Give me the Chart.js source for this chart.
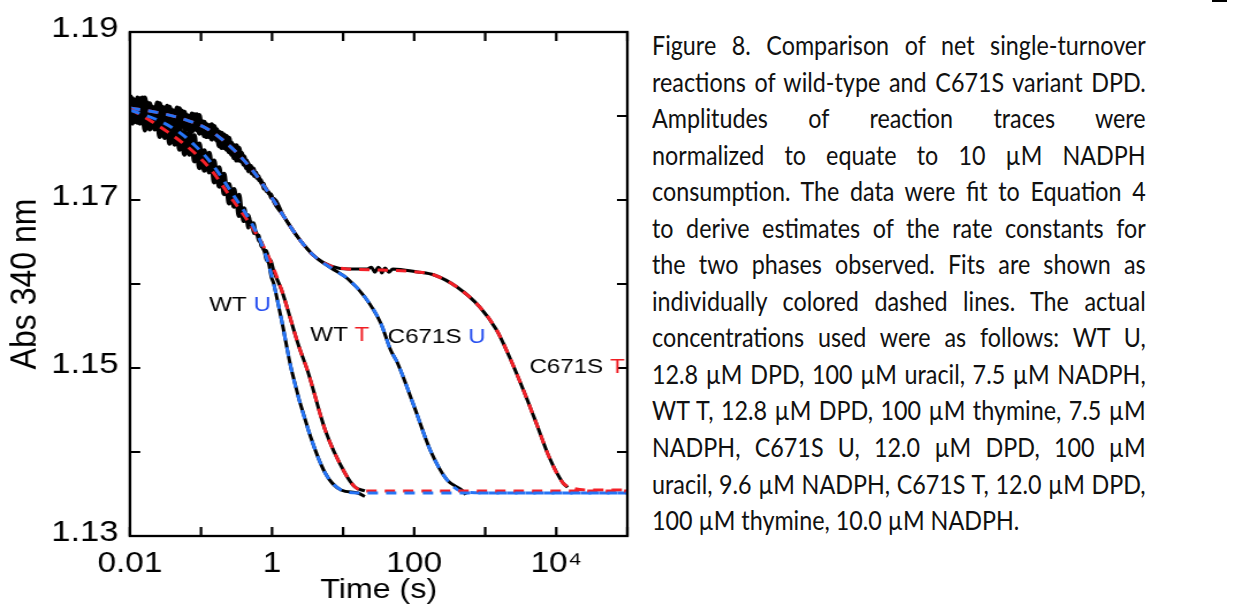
<!DOCTYPE html>
<html>
<head>
<meta charset="utf-8">
<script src="https://cdn.jsdelivr.net/npm/chart.js@4.4.1/dist/chart.umd.min.js"></script>
<style>
    html, body { margin: 0; padding: 0; background: #fff; width: 1238px; height: 611px; overflow: hidden; }
    /* the original figure is stretched horizontally, so the plot is too */
    #plotWrap { position: absolute; left: 0; top: 0; width: 556px; height: 611px; transform: scaleX(1.151); transform-origin: 0 0; }
    #caption { position: absolute; left: 652px; top: 27px; width: 561px; font-family: Lato, sans-serif; font-size: 26.5px; color: #111;
               transform: scaleX(0.88); transform-origin: 0 0; }
    #caption div { white-space: nowrap; height: 36.55px; line-height: 36.55px; }
    #corner { position: absolute; left: 1212px; top: 0; width: 15px; height: 2px; background: #000; }
</style>
</head>
<body>
<div id="plotWrap"><canvas id="absChart" width="556" height="611"></canvas></div>
<div id="caption"></div>
<div id="corner"></div>
<script>
// ---- data ----

// early sampling times (s), where the raw traces are noisy
const tEarly = [0.01000, 0.01084, 0.01174, 0.01272, 0.01378, 0.01494, 0.01619, 0.01754, 0.01900, 0.02059,
    0.02231, 0.02418, 0.02620, 0.02839, 0.03076, 0.03333, 0.03612, 0.03914, 0.04241, 0.04595,
    0.04980, 0.05396, 0.05847, 0.06336, 0.06866, 0.07440, 0.08062, 0.08736, 0.09466, 0.1026,
    0.1111, 0.1204, 0.1305, 0.1414, 0.1532, 0.1660, 0.1799, 0.1949, 0.2112, 0.2289,
    0.2480, 0.2687, 0.2912, 0.3155, 0.3419, 0.3705, 0.4015, 0.4350, 0.4714, 0.5108,
    0.5535, 0.5998, 0.6499, 0.7043, 0.7631, 0.8269, 0.8961, 0.9710, 1.052];

const wtUEarly = [1.1816, 1.1791, 1.1819, 1.1796, 1.1818, 1.1791, 1.1813, 1.1788, 1.1805, 1.1787,
    1.1808, 1.1788, 1.1802, 1.1780, 1.1801, 1.1779, 1.1794, 1.1774, 1.1796, 1.1774,
    1.1790, 1.1767, 1.1781, 1.1761, 1.1781, 1.1761, 1.1777, 1.1753, 1.1767, 1.1747,
    1.1759, 1.1741, 1.1756, 1.1738, 1.1747, 1.1725, 1.1739, 1.1719, 1.1731, 1.1710,
    1.1719, 1.1700, 1.1713, 1.1695, 1.1706, 1.1686, 1.1690, 1.1676, 1.1682, 1.1668,
    1.1673, 1.1659, 1.1658, 1.1645, 1.1642, 1.1629, 1.1625, 1.1609, 1.1601];
const wtTEarly = [1.1793, 1.1821, 1.1797, 1.1819, 1.1791, 1.1812, 1.1783, 1.1803, 1.1784, 1.1805,
    1.1784, 1.1797, 1.1775, 1.1796, 1.1774, 1.1788, 1.1767, 1.1789, 1.1766, 1.1782,
    1.1760, 1.1774, 1.1754, 1.1774, 1.1754, 1.1771, 1.1746, 1.1761, 1.1738, 1.1753,
    1.1735, 1.1751, 1.1733, 1.1743, 1.1721, 1.1735, 1.1716, 1.1728, 1.1707, 1.1716,
    1.1696, 1.1711, 1.1692, 1.1703, 1.1681, 1.1689, 1.1675, 1.1681, 1.1667, 1.1674,
    1.1660, 1.1662, 1.1651, 1.1651, 1.1640, 1.1640, 1.1631, 1.1627, 1.1616];
const c671sUEarly = [1.1797, 1.1818, 1.1793, 1.1822, 1.1800, 1.1822, 1.1796, 1.1816, 1.1794, 1.1811,
    1.1794, 1.1816, 1.1796, 1.1811, 1.1790, 1.1812, 1.1791, 1.1807, 1.1787, 1.1810,
    1.1789, 1.1806, 1.1785, 1.1801, 1.1782, 1.1803, 1.1784, 1.1802, 1.1779, 1.1794,
    1.1776, 1.1790, 1.1775, 1.1790, 1.1774, 1.1784, 1.1764, 1.1780, 1.1762, 1.1776,
    1.1757, 1.1768, 1.1750, 1.1765, 1.1747, 1.1756, 1.1742, 1.1747, 1.1734, 1.1741,
    1.1728, 1.1733, 1.1723, 1.1724, 1.1713, 1.1714, 1.1707, 1.1707, 1.1698];
const c671sTEarly = [1.1825, 1.1797, 1.1818, 1.1792, 1.1821, 1.1799, 1.1822, 1.1798, 1.1815, 1.1793,
    1.1810, 1.1793, 1.1815, 1.1796, 1.1810, 1.1789, 1.1811, 1.1790, 1.1806, 1.1786,
    1.1809, 1.1788, 1.1805, 1.1784, 1.1800, 1.1781, 1.1802, 1.1783, 1.1801, 1.1780,
    1.1793, 1.1775, 1.1789, 1.1772, 1.1788, 1.1771, 1.1781, 1.1762, 1.1778, 1.1760,
    1.1774, 1.1754, 1.1765, 1.1747, 1.1762, 1.1746, 1.1752, 1.1738, 1.1744, 1.1731,
    1.1738, 1.1726, 1.1729, 1.1719, 1.1720, 1.1710, 1.1710, 1.1702, 1.1702];

// fitted curves (Equation 4), times in s
const fitTimeWU = [0.010, 0.0246, 0.0467, 0.0806, 0.1392, 0.291, 0.503, 0.693, 0.897, 1.122,
    1.361, 1.877, 3.24, 5.59, 9.35, 16.1, 100000];
const fitWU = [1.18071, 1.17952, 1.17821, 1.17655, 1.17440, 1.17048, 1.16738, 1.16500, 1.16226, 1.15905,
    1.15571, 1.14976, 1.14262, 1.13750, 1.13548, 1.13512, 1.13512];

const fitTimeWT = [0.010, 0.0178, 0.0339, 0.0732, 0.1392, 0.248, 0.590, 0.897, 1.361, 2.35,
    3.24, 5.59, 10.6, 14.7, 20.2, 100000];
const fitWT = [1.18083, 1.17964, 1.17810, 1.17595, 1.17357, 1.17060, 1.16607, 1.16321, 1.15929, 1.15274,
    1.14940, 1.14262, 1.13750, 1.13583, 1.13536, 1.13536];

const fitTimeCU = [0.010, 0.0262, 0.0687, 0.1305, 0.291, 0.554, 0.897, 1.451, 2.35, 4.06,
    6.78, 11.7, 20.2, 33.8, 46.6, 58.3, 100.6, 168, 290, 501, 1446, 100000];
const fitCU = [1.18095, 1.18036, 1.17940, 1.17833, 1.17595, 1.17333, 1.17083, 1.16810, 1.16548, 1.16321,
    1.16190, 1.16060, 1.15845, 1.15536, 1.15214, 1.15060, 1.14536, 1.14024, 1.13667, 1.13524, 1.13512, 1.13512];

const fitTimeCT = [0.010, 0.0262, 0.0687, 0.1305, 0.291, 0.554, 0.897, 1.451, 2.35, 4.06,
    6.78, 11.7, 33.8, 111, 191, 400, 838, 1446, 2198, 3443, 5224, 7935, 12440, 17140, 28680, 100000];
const fitCT = [1.18095, 1.18036, 1.17940, 1.17833, 1.17595, 1.17333, 1.17083, 1.16810, 1.16548, 1.16321,
    1.16214, 1.16179, 1.16167, 1.16143, 1.16107, 1.15964, 1.15726, 1.15452, 1.15131, 1.14738,
    1.14345, 1.13940, 1.13631, 1.13571, 1.13548, 1.13548];

// last recorded points / plateau wiggles of the raw traces
const wtUTailT = [20.2];
const wtUTailV = [1.1347];
const wtTTailT = [];
const wtTTailV = [];
const c671sUTailT = [530];
const c671sUTailV = [1.1349];
const c671sTTailT = [22, 25, 28, 31, 35, 39, 44, 50, 14500];
const c671sTTailV = [1.1618, 1.1620, 1.1614, 1.1620, 1.1613, 1.1619, 1.1614, 1.1618, 1.1358];

// where each raw trace stops following the fit (s)
const traceEnd = { wtU: 16.1, wtT: 20.2, c671sU: 501, c671sT: 12440 };

// axes
const xTickValues = [0.01, 0.1, 1, 10, 100, 1000, 10000, 100000];
const xTickLabels = ['0.01', '', '1', '', '100', '', '10\u2074', ''];
const yTickValues = [1.13, 1.14, 1.15, 1.16, 1.17, 1.18, 1.19];
const yTickLabels = ['1.13', '', '1.15', '', '1.17', '', '1.19'];

const captionLines = [
    "Figure 8. Comparison of net single-turnover",
    "reactions of wild-type and C671S variant DPD.",
    "Amplitudes of reaction traces were",
    "normalized to equate to 10 \u00b5M NADPH",
    "consumption. The data were fit to Equation 4",
    "to derive estimates of the rate constants for",
    "the two phases observed. Fits are shown as",
    "individually colored dashed lines. The actual",
    "concentrations used were as follows: WT U,",
    "12.8 \u00b5M DPD, 100 \u00b5M uracil, 7.5 \u00b5M NADPH,",
    "WT T, 12.8 \u00b5M DPD, 100 \u00b5M thymine, 7.5 \u00b5M",
    "NADPH, C671S U, 12.0 \u00b5M DPD, 100 \u00b5M",
    "uracil, 9.6 \u00b5M NADPH, C671S T, 12.0 \u00b5M DPD,",
    "100 \u00b5M thymine, 10.0 \u00b5M NADPH."
];

// ---- styles ----
const RED = "rgb(244,32,40)";
const BLUE = "rgb(38,116,246)";
const RED_TXT = "rgb(240,30,36)";
const BLUE_TXT = "rgb(40,80,240)";

const seriesLabels = [
    { name: "WT", code: "U", t: 0.13, v: 1.1575, color: BLUE_TXT },
    { name: "WT", code: "T", t: 3.45, v: 1.1539, color: RED_TXT },
    { name: "C671S", code: "U", t: 42.3, v: 1.1537, color: BLUE_TXT },
    { name: "C671S", code: "T", t: 4180, v: 1.1501, color: RED_TXT }
];

function pts(ts, vs) {
    return ts.map((t, i) => ({ x: t, y: vs[i] }));
}

// raw trace = noisy early samples + the smooth part of the trace + tail
function rawTrace(earlyV, fitT, fitV, tEnd, tailT, tailV) {
    const p = pts(tEarly, earlyV);
    const tStart = tEarly[tEarly.length - 1];
    fitT.forEach((t, i) => {
        if (t > tStart && t <= tEnd) p.push({ x: t, y: fitV[i] });
    });
    tailT.forEach((t, i) => p.push({ x: t, y: tailV[i] }));
    return p.sort((a, b) => a.x - b.x);
}

// frame, inward ticks and series labels
const frameTicks = {
    id: "frameTicks",
    afterDatasetsDraw(chart) {
        const { ctx, chartArea: a, scales: { x, y } } = chart;
        ctx.save();
        ctx.strokeStyle = "#000";
        ctx.lineWidth = 2.3;
        ctx.strokeRect(a.left, a.top, a.right - a.left, a.bottom - a.top);
        ctx.lineWidth = 2.2;
        ctx.beginPath();
        y.ticks.forEach(t => {
            const py = y.getPixelForValue(t.value);
            ctx.moveTo(a.left, py); ctx.lineTo(a.left + 9, py);
            ctx.moveTo(a.right, py); ctx.lineTo(a.right - 9, py);
        });
        x.ticks.forEach(t => {
            const px = x.getPixelForValue(t.value);
            ctx.moveTo(px, a.bottom); ctx.lineTo(px, a.bottom - 9);
            ctx.moveTo(px, a.top); ctx.lineTo(px, a.top + 9);
        });
        ctx.stroke();

        ctx.font = "21px 'Liberation Sans', Arial, sans-serif";
        ctx.textBaseline = "middle";
        seriesLabels.forEach(l => {
            const px = x.getPixelForValue(l.t);
            const py = y.getPixelForValue(l.v);
            ctx.fillStyle = "#000";
            ctx.fillText(l.name + " ", px, py);
            const w = ctx.measureText(l.name + " ").width;
            ctx.fillStyle = l.color;
            ctx.fillText(l.code, px + w, py);
        });
        ctx.restore();
    }
};

Chart.defaults.font.family = "'Liberation Sans', Arial, sans-serif";
Chart.defaults.color = "#000";

const fitStyle = { borderWidth: 3, borderDash: [9, 7], order: 1 };
const rawStyle = {
    borderWidth: 3, borderColor: "#000", order: 2,
    // the noisy start of each trace looks heavier
    segment: { borderWidth: c => (c.p0.parsed.x < 0.45 ? 4.2 : 3) }
};

new Chart(document.getElementById("absChart"), {
    type: "line",
    data: {
        datasets: [
            { label: "WT U fit", data: pts(fitTimeWU, fitWU), borderColor: BLUE, ...fitStyle },
            { label: "WT T fit", data: pts(fitTimeWT, fitWT), borderColor: RED, ...fitStyle },
            { label: "C671S U fit", data: pts(fitTimeCU, fitCU), borderColor: BLUE, ...fitStyle },
            { label: "C671S T fit", data: pts(fitTimeCT, fitCT), borderColor: RED, ...fitStyle },
            { label: "WT U", data: rawTrace(wtUEarly, fitTimeWU, fitWU, traceEnd.wtU, wtUTailT, wtUTailV), ...rawStyle },
            { label: "WT T", data: rawTrace(wtTEarly, fitTimeWT, fitWT, traceEnd.wtT, wtTTailT, wtTTailV), ...rawStyle },
            { label: "C671S U", data: rawTrace(c671sUEarly, fitTimeCU, fitCU, traceEnd.c671sU, c671sUTailT, c671sUTailV), ...rawStyle },
            { label: "C671S T", data: rawTrace(c671sTEarly, fitTimeCT, fitCT, traceEnd.c671sT, c671sTTailT, c671sTTailV), ...rawStyle }
        ]
    },
    options: {
        responsive: false,
        animation: false,
        events: [],
        layout: { padding: { top: 32, right: 6, bottom: 0, left: 0 } },
        elements: {
            point: { radius: 0 },
            line: { fill: false, cubicInterpolationMode: "monotone" }
        },
        plugins: { legend: { display: false }, tooltip: { enabled: false } },
        scales: {
            x: {
                type: "logarithmic",
                min: 0.01,
                max: 100000,
                grid: { display: false, drawTicks: false },
                border: { display: false },
                ticks: {
                    autoSkip: false, maxRotation: 0, padding: 11,
                    font: { size: 29 },
                    callback: (v, i) => xTickLabels[i]
                },
                afterBuildTicks: s => { s.ticks = xTickValues.map(v => ({ value: v })); },
                afterFit: s => { s.height = 75; },
                title: { display: true, text: "Time (s)", font: { size: 28 }, padding: { top: 0, bottom: 4 } }
            },
            y: {
                type: "linear",
                min: 1.13,
                max: 1.19,
                grid: { display: false, drawTicks: false },
                border: { display: false },
                ticks: {
                    padding: 10, labelOffset: -3,
                    font: { size: 30 },
                    callback: (v, i) => yTickLabels[i]
                },
                afterBuildTicks: s => { s.ticks = yTickValues.map(v => ({ value: v })); },
                afterFit: s => { s.width = 112.9; },
                title: { display: true, text: "Abs 340 nm", font: { size: 32 }, padding: { top: 3, bottom: 0 } }
            }
        }
    },
    plugins: [frameTicks]
});

// caption, justified line by line like the original
const CAP_SCALE = 0.88;
const CAP_WIDTH = 561;
function layoutCaption() {
    const cap = document.getElementById("caption");
    cap.innerHTML = "";
    captionLines.forEach((txt, i) => {
        const row = document.createElement("div");
        const span = document.createElement("span");
        span.textContent = txt;
        row.appendChild(span);
        cap.appendChild(row);
        if (i < captionLines.length - 1) {
            const gaps = txt.split(" ").length - 1;
            const w = span.getBoundingClientRect().width / CAP_SCALE;
            span.style.wordSpacing = ((CAP_WIDTH - w) / gaps) + "px";
        }
    });
}
layoutCaption();
document.fonts.ready.then(layoutCaption);
</script>
</body>
</html>
